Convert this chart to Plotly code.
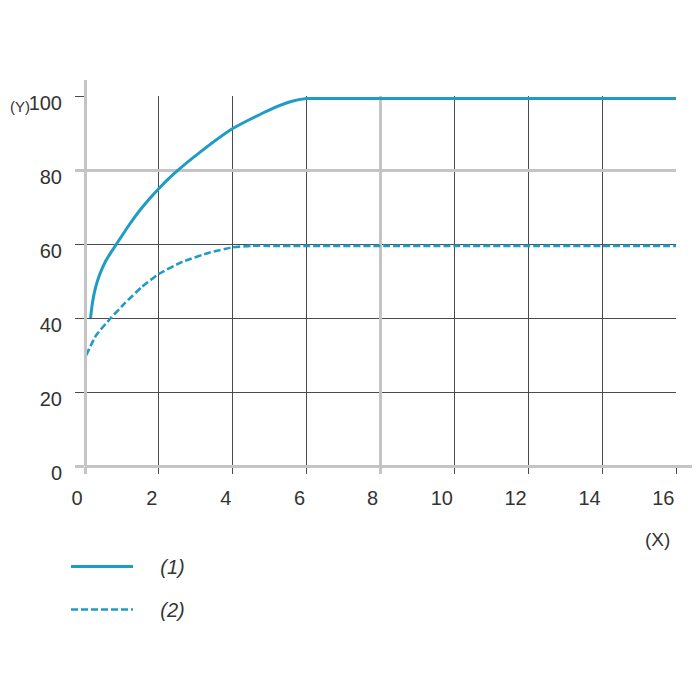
import plotly.graph_objects as go

# ---- data ----
x1 = [0.15, 0.20, 0.28, 0.40, 0.55, 0.72, 0.88, 1.17, 1.54, 2.0, 2.41, 3.1, 4.0, 4.94, 5.58, 6.0, 7, 8, 10, 12, 14, 16]
y1 = [40, 44, 48, 51.8, 55.2, 58.0, 60.4, 64.8, 69.8, 75.0, 79.0, 84.7, 91.2, 96.0, 98.5, 99.3, 99.3, 99.3, 99.3, 99.3, 99.3, 99.3]
x2 = [0.03, 0.30, 0.70, 1.08, 1.54, 2.0, 2.64, 3.38, 4.0, 4.5, 5, 6, 8, 10, 12, 14, 16]
y2 = [29.9, 35.3, 40, 44.0, 48.4, 51.9, 55.2, 57.7, 59.1, 59.5, 59.5, 59.5, 59.5, 59.5, 59.5, 59.5, 59.5]
names = ["(1)", "(2)"]

x_dark_ticks = [2, 4, 6, 10, 12, 14, 16]
x_gray_ticks = [0, 8]
y_dark_ticks = [20, 40, 60, 100]
y_gray_ticks = [0, 80]
x_range = [0, 16]
y_range = [0, 100]

COLOR = "#1f9cc6"
DARK = "#4a4a4a"
GRAY = "#c4c4c4"
FONT = "Liberation Sans, Arial, sans-serif"
TXT = "#333333"
PAD = "\u00a0" * 4  # gap between legend sample and its label

fig = go.Figure()
fig.add_trace(go.Scatter(x=x1, y=y1, mode="lines", name=PAD + names[0], legendgroup="a",
                         line=dict(color=COLOR, width=3, shape="spline", smoothing=0.5)))
fig.add_trace(go.Scatter(x=x2, y=y2, mode="lines", name=PAD + names[1], legendgroup="b",
                         line=dict(color=COLOR, width=2.6, dash="7px,3px", shape="spline", smoothing=0.5)))
# helper empty traces so the overlay / decorative axes exist
fig.add_trace(go.Scatter(x=[None], y=[None], xaxis="x2", yaxis="y2", showlegend=False, hoverinfo="skip"))
fig.add_trace(go.Scatter(x=[None], y=[None], xaxis="x3", yaxis="y3", showlegend=False, hoverinfo="skip"))

# the page body adds an 8px offset, so the figure is drawn 692x692
W, H = 692, 692
ml, mt, mr, mb = 77, 72, 0, 234
pw, ph = W - ml - mr, H - mt - mb
xd = 591 / pw
yd = 370 / ph

tickfont = dict(family=FONT, size=20, color=TXT)
common = dict(automargin=False, zeroline=False, showline=False, tickmode="array", tickfont=tickfont)

fig.update_layout(
    width=W, height=H,
    margin=dict(l=ml, r=mr, t=mt, b=mb, autoexpand=False),
    paper_bgcolor="white", plot_bgcolor="rgba(0,0,0,0)",
    xaxis=dict(domain=[0, xd], range=x_range, tickvals=x_dark_ticks,
               showgrid=True, gridcolor=DARK, gridwidth=1,
               ticks="outside", ticklen=7, tickcolor=DARK, tickwidth=1,
               ticklabelposition="outside left", ticklabelstandoff=14, ticklabelshift=-1,
               anchor="y", **common),
    xaxis2=dict(overlaying="x", side="bottom", anchor="y", range=x_range,
                tickvals=x_gray_ticks, showgrid=True, gridcolor=GRAY, gridwidth=3,
                ticks="outside", ticklen=7, tickcolor=GRAY,
                tickwidth=3, ticklabelposition="outside left", ticklabelstandoff=14,
                ticklabelshift=-1, **common),
    yaxis=dict(domain=[0, yd], range=y_range, tickvals=y_dark_ticks,
               showgrid=True, gridcolor=DARK, gridwidth=1,
               ticks="outside", ticklen=9, tickcolor=DARK, tickwidth=1,
               ticklabelposition="outside", ticklabelstandoff=9, ticklabelshift=7,
               anchor="x", **common),
    yaxis2=dict(overlaying="y", side="left", anchor="x", range=y_range,
                tickvals=y_gray_ticks, showgrid=True, gridcolor=GRAY, gridwidth=3,
                ticks="outside", ticklen=9, tickcolor=GRAY,
                tickwidth=3, ticklabelposition="outside", ticklabelstandoff=9,
                ticklabelshift=7, **common),
    xaxis3=dict(domain=[0, 1], anchor="free", position=0, range=[0, 1], showline=True,
                linecolor=GRAY, linewidth=3, showgrid=False, zeroline=False,
                showticklabels=False, ticks="", automargin=False),
    yaxis3=dict(domain=[0, 1], anchor="free", position=0, range=[0, 1], showline=True,
                linecolor=GRAY, linewidth=3, showgrid=False, zeroline=False,
                showticklabels=False, ticks="", automargin=False),
    showlegend=True,
    legend=dict(xref="container", yref="container", x=58 / W, y=1 - 539 / H,
                xanchor="left", yanchor="top",
                traceorder="grouped", tracegroupgap=14, itemwidth=62,
                font=dict(family=FONT, size=20, color=TXT, style="italic"),
                bgcolor="rgba(0,0,0,0)"),
    annotations=[
        dict(text="(Y)", xref="paper", yref="paper", x=-ml / pw, xanchor="left",
             y=(458 - 98) / ph, yanchor="middle", showarrow=False,
             font=dict(family=FONT, size=15, color=TXT)),
        dict(text="(X)", xref="paper", yref="paper", x=(649 - ml) / pw, xanchor="center",
             y=(458 - 531) / ph, yanchor="middle", showarrow=False,
             font=dict(family=FONT, size=19, color=TXT)),
    ],
)

fig.write_html("out.html")
